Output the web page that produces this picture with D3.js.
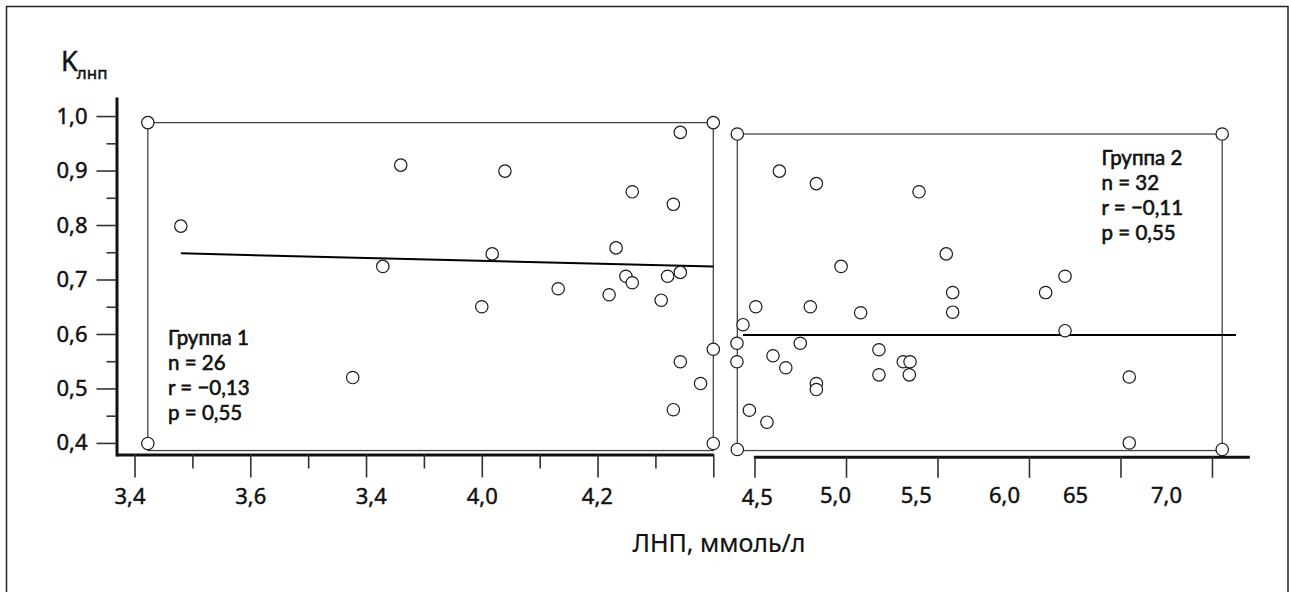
<!DOCTYPE html>
<html>
<head>
<meta charset="utf-8">
<script src="https://cdn.jsdelivr.net/npm/d3@7"></script>
<style>
  body { margin: 0; background: #fff; }
  svg { display: block; font-family: "Noto Sans", sans-serif; }
  svg text { stroke: #111; stroke-width: 0.45px; }
</style>
</head>
<body>
<svg width="1289" height="592"></svg>
<script>
// Group 1 (n = 26): LDL, mmol/l and K
var g1X = [3.423, 3.423, 4.400, 4.400, 4.400, 3.480, 3.829, 3.777, 3.860, 4.040, 4.018, 4.000, 4.132,
           4.220, 4.232, 4.249, 4.260, 4.260, 4.321, 4.310, 4.331, 4.343, 4.343, 4.343, 4.378, 4.331];
var g1Y = [0.988, 0.399, 0.988, 0.399, 0.572, 0.798, 0.724, 0.520, 0.910, 0.899, 0.747, 0.650, 0.683,
           0.672, 0.758, 0.706, 0.694, 0.861, 0.706, 0.662, 0.838, 0.970, 0.713, 0.549, 0.509, 0.461];
// Group 2
var g2X = [4.406, 7.056, 4.406, 7.056, 4.636, 4.838, 5.399, 5.548, 4.973, 6.197, 6.091, 5.583, 5.583,
           5.080, 4.805, 4.507, 4.437, 6.197, 4.404, 4.750, 5.180, 4.404, 4.601, 5.313, 5.350, 4.671,
           5.180, 5.346, 6.548, 4.838, 4.838, 4.472, 4.568, 6.548];
var g2Y = [0.967, 0.967, 0.388, 0.388, 0.899, 0.876, 0.861, 0.747, 0.724, 0.706, 0.676, 0.676, 0.640,
           0.639, 0.650, 0.650, 0.617, 0.606, 0.583, 0.583, 0.571, 0.549, 0.560, 0.549, 0.549, 0.538,
           0.525, 0.525, 0.521, 0.509, 0.498, 0.460, 0.438, 0.400];

// regression lines [x0, x1], [y0, y1]
var fit1X = [3.480, 4.400], fit1Y = [0.748, 0.724];
var fit2X = [4.437, 7.131], fit2Y = [0.598, 0.598];

// range boxes
var box1X = [3.423, 4.400], box1Y = [0.386, 0.988];
var box2X = [4.406, 7.056], box2Y = [0.386, 0.967];

// ticks
var yTicks = [0.4, 0.5, 0.6, 0.7, 0.8, 0.9, 1.0];
var yTickLabels = ["0,4", "0,5", "0,6", "0,7", "0,8", "0,9", "1,0"];
var yMinor = [0.45, 0.55, 0.65, 0.75, 0.85, 0.95];
var x1Ticks = [3.4, 3.6, 3.8, 4.0, 4.2, 4.4];
var x1TickLabels = ["3,4", "3,6", "3,4", "4,0", "4,2", ""];
var x1Minor = [3.5, 3.7, 3.9, 4.1, 4.3];
var x2Ticks = [4.5, 5.0, 5.5, 6.0, 6.5, 7.0];
var x2TickLabels = ["4,5", "5,0", "5,5", "6,0", "65", "7,0"];

var legend1 = ["Группа 1", "n = 26", "r = \u22120,13", "p = 0,55"];
var legend2 = ["Группа 2", "n = 32", "r = \u22120,11", "p = 0,55"];

// label nudges as in the original drawing
var x1LabelShift = [-5, 0, 4.7, 0, -0.7, 0];
var x2LabelShift = [2.2, -11, -21.8, -25, -45.5, -46];

var svg = d3.select("svg");

// outer frame
svg.append("rect")
  .attr("x", 6.5).attr("y", 6.5)
  .attr("width", 1281.5).attr("height", 600)
  .attr("fill", "none").attr("stroke", "#222").attr("stroke-width", 1.5);

var y = d3.scaleLinear().domain([0.376, 1.035]).range([456, 97]);
var x1 = d3.scaleLinear().domain([3.368, 4.4]).range([116, 713.3]);
var x2 = d3.scaleLinear().domain([4.4934, 7.204]).range([753.3, 1249.3]);

function styleAxis(sel) {
  sel.select(".domain").attr("stroke", "#111").attr("stroke-width", 3);
  sel.selectAll(".tick line").attr("stroke", "#333").attr("stroke-width", 1.6);
  sel.selectAll("text").attr("fill", "#111").attr("font-size", 22).attr("font-family", "Noto Sans, sans-serif");
}

// y axis
var yAxis = svg.append("g").attr("transform", "translate(116.5,0)")
  .call(d3.axisLeft(y).tickValues(yTicks).tickSize(20).tickSizeOuter(0).tickPadding(9)
    .tickFormat(function(d, i) { return yTickLabels[i]; }));
styleAxis(yAxis);
var yMin = svg.append("g").attr("transform", "translate(116.5,0)")
  .call(d3.axisLeft(y).tickValues(yMinor).tickSize(10).tickFormat(""));
yMin.select(".domain").remove();
yMin.selectAll(".tick line").attr("stroke", "#333").attr("stroke-width", 1.6);

// left x axis
var xa1 = svg.append("g").attr("transform", "translate(0,454.5)")
  .call(d3.axisBottom(x1).tickValues(x1Ticks).tickSize(23).tickSizeOuter(0)
    .tickFormat(function(d, i) { return x1TickLabels[i]; }));
styleAxis(xa1);
xa1.selectAll(".tick text")
  .attr("dy", null).attr("y", 49.5)
  .attr("x", function(d, i) { return x1LabelShift[i]; });
var xm1 = svg.append("g").attr("transform", "translate(0,454.5)")
  .call(d3.axisBottom(x1).tickValues(x1Minor).tickSize(14).tickFormat(""));
xm1.select(".domain").remove();
xm1.selectAll(".tick line").attr("stroke", "#333").attr("stroke-width", 1.6);

// right x axis
var xa2 = svg.append("g").attr("transform", "translate(0,456.8)")
  .call(d3.axisBottom(x2).tickValues(x2Ticks).tickSize(21).tickSizeOuter(0)
    .tickFormat(function(d, i) { return x2TickLabels[i]; }));
styleAxis(xa2);
xa2.selectAll(".tick text")
  .attr("dy", null)
  .attr("y", function(d, i) { return i == 0 ? 48.2 : 46; })
  .attr("x", function(d, i) { return x2LabelShift[i]; });

// range boxes
[[x1, box1X, box1Y], [x2, box2X, box2Y]].forEach(function(b) {
  var sx = b[0];
  svg.append("rect")
    .attr("x", sx(b[1][0])).attr("y", y(b[2][1]))
    .attr("width", sx(b[1][1]) - sx(b[1][0]))
    .attr("height", y(b[2][0]) - y(b[2][1]))
    .attr("fill", "none").attr("stroke", "#444").attr("stroke-width", 1.3);
});

// fit lines
svg.append("line")
  .attr("x1", x1(fit1X[0])).attr("y1", y(fit1Y[0]))
  .attr("x2", x1(fit1X[1])).attr("y2", y(fit1Y[1]))
  .attr("stroke", "#000").attr("stroke-width", 2);
svg.append("line")
  .attr("x1", x2(fit2X[0])).attr("y1", y(fit2Y[0]))
  .attr("x2", x2(fit2X[1])).attr("y2", y(fit2Y[1]))
  .attr("stroke", "#000").attr("stroke-width", 2);

// points
function drawPoints(xs, ys, sx) {
  svg.append("g").selectAll("circle")
    .data(xs)
    .enter().append("circle")
      .attr("cx", function(d) { return sx(d); })
      .attr("cy", function(d, i) { return y(ys[i]); })
      .attr("r", 6.2)
      .attr("fill", "#fff")
      .attr("stroke", "#1a1a1a")
      .attr("stroke-width", 1.2);
}
drawPoints(g1X, g1Y, x1);
drawPoints(g2X, g2Y, x2);

// legends, one text per line (Lato: tighter line box, lines are 25px apart)
function drawLegend(lines, lx, ly) {
  svg.append("g").selectAll("text")
    .data(lines)
    .enter().append("text")
      .attr("x", lx)
      .attr("y", function(d, i) { return ly + i * 25; })
      .attr("font-family", "Lato, sans-serif")
      .attr("font-size", 20.5)
      .attr("fill", "#111")
      .style("stroke-width", "0.6px")
      .text(function(d) { return d; });
}
drawLegend(legend1, 168, 345);
drawLegend(legend2, 1101.5, 165);

// y title
var yt = svg.append("text").attr("x", 61).attr("y", 71).attr("fill", "#111");
yt.append("tspan").attr("font-size", 27).text("K");
yt.append("tspan").attr("font-size", 17).attr("dy", 8).attr("dx", -1).text("лнп");

// x title
svg.append("text")
  .attr("x", 719).attr("y", 551.7)
  .attr("text-anchor", "middle")
  .attr("font-size", 25).attr("fill", "#111")
  .style("stroke-width", "0.2px")
  .text("ЛНП, ммоль/л");
</script>
</body>
</html>
